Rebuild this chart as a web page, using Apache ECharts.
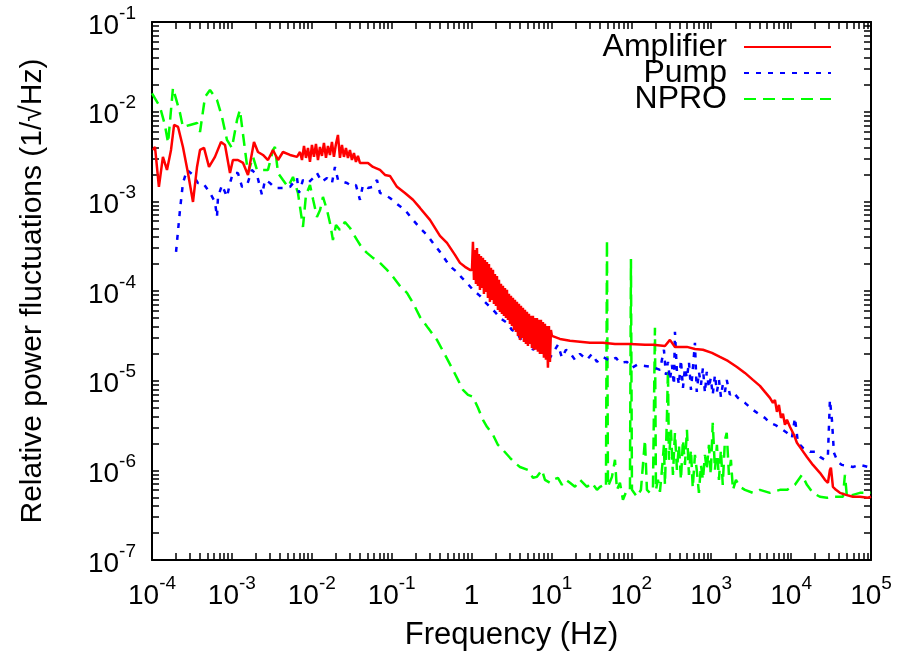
<!DOCTYPE html>
<html><head><meta charset="utf-8">
<script src="https://cdn.jsdelivr.net/npm/echarts@6/dist/echarts.min.js"></script>
<style>html,body{margin:0;padding:0;background:#fff}#c{width:898px;height:661px}</style>
</head><body><div id="c"></div>
<script>
// ---- data: [frequency (Hz), relative power fluctuation (1/sqrt(Hz))] ----
const amplifier = [
[1.03e-4,3.74e-3],[1.09e-4,4.04e-3],[1.22e-4,1.45e-3],[1.37e-4,3.13e-3],[1.54e-4,2.24e-3],[1.73e-4,3.74e-3],
[1.89e-4,7.11e-3],[2.12e-4,6.75e-3],[2.44e-4,4.04e-3],[2.82e-4,2.07e-3],[3.26e-4,9.85e-4],[3.66e-4,2.42e-3],
[3.99e-4,3.74e-3],[4.48e-4,3.94e-3],[5.17e-4,2.42e-3],[6.14e-4,3.13e-3],[7.31e-4,4.59e-3],[8.2e-4,4.25e-3],
[9.47e-4,2.07e-3],[1.03e-3,2.89e-3],[1.19e-3,2.89e-3],[1.38e-3,2.68e-3],[1.59e-3,1.97e-3],[1.89e-3,4.59e-3],
[2.12e-3,3.55e-3],[2.45e-3,3.29e-3],[2.83e-3,2.89e-3],[3.27e-3,3.74e-3],[3.78e-3,2.89e-3],[4.36e-3,3.55e-3],
[5.34e-3,3.29e-3],[6.53e-3,3.13e-3],
[7.12e-3,3.55e-3],[7.54e-3,2.89e-3],[7.99e-3,4.15e-3],[8.46e-3,3.05e-3],[8.96e-3,3.94e-3],[9.49e-3,2.75e-3],
[1.005e-2,4.25e-3],[1.065e-2,3.13e-3],[1.128e-2,4.36e-3],[1.195e-2,2.89e-3],[1.266e-2,4.04e-3],[1.341e-2,3.21e-3],
[1.420e-2,4.48e-3],[1.505e-2,3.05e-3],[1.594e-2,4.15e-3],[1.688e-2,3.29e-3],[1.788e-2,4.59e-3],[1.894e-2,3.13e-3],
[2.007e-2,4.36e-3],[2.126e-2,5.50e-3],[2.252e-2,3.05e-3],[2.385e-2,4.25e-3],[2.527e-2,3.13e-3],[2.677e-2,3.94e-3],
[2.835e-2,3.05e-3],[3.003e-2,3.74e-3],[3.181e-2,2.89e-3],[3.370e-2,3.46e-3],[3.570e-2,2.75e-3],[3.782e-2,3.21e-3],
[4.006e-2,2.68e-3],
[5.05e-2,2.68e-3],[5.83e-2,2.42e-3],[7.14e-2,2.24e-3],[8.25e-2,1.97e-3],
[9.52e-2,1.92e-3],[0.1165,1.45e-3],[0.1467,1.24e-3],[0.1848,1.04e-3],[0.2261,8.44e-4],[0.3016,6.21e-4],
[0.4024,4.12e-4],[0.4924,3.44e-4],[0.620,2.53e-4],[0.716,2.06e-4],[0.827,1.86e-4],[0.955,1.72e-4],
[1.012,1.72e-4],[1.041,3.53e-4],[1.072,1.33e-4],[1.103,2.87e-4],[1.135,1.20e-4],[1.168,3.02e-4],
[1.202,1.14e-4],[1.237,2.59e-4],[1.274,1.03e-4],[1.311,2.46e-4],[1.349,1.08e-4],[1.389,2.34e-4],
[1.429,9.29e-5],[1.471,2.22e-4],[1.514,9.77e-5],[1.558,2.11e-4],[1.604,8.38e-5],[1.651,2.00e-4],
[1.699,7.56e-5],[1.749,1.81e-4],[1.800,7.96e-5],[1.853,1.72e-4],[1.907,7.18e-5],[1.963,1.55e-4],
[2.020,6.82e-5],[2.079,1.47e-4],[2.140,6.16e-5],[2.202,1.33e-4],[2.267,5.85e-5],[2.333,1.20e-4],
[2.401,5.56e-5],[2.471,1.14e-4],[2.544,5.28e-5],[2.618,1.08e-4],[2.695,5.01e-5],[2.773,1.03e-4],
[2.854,4.76e-5],[2.938,9.29e-5],[3.024,4.30e-5],[3.112,8.82e-5],[3.203,4.08e-5],[3.297,8.38e-5],
[3.393,3.68e-5],[3.492,7.96e-5],[3.594,3.50e-5],[3.699,7.56e-5],[3.808,3.16e-5],[3.919,7.18e-5],
[4.034,2.85e-5],[4.152,6.82e-5],[4.273,3.00e-5],[4.398,6.48e-5],[4.526,2.71e-5],[4.659,6.16e-5],
[4.795,2.57e-5],[4.935,5.85e-5],[5.079,2.44e-5],[5.228,5.56e-5],[5.380,2.57e-5],[5.538,5.28e-5],
[5.700,2.32e-5],[5.866,5.28e-5],[6.038,2.21e-5],[6.214,5.01e-5],[6.396,2.21e-5],[6.583,5.01e-5],
[6.775,2.10e-5],[6.973,4.76e-5],[7.177,1.99e-5],[7.387,4.76e-5],[7.603,1.99e-5],[7.825,4.52e-5],
[8.054,1.80e-5],[8.290,4.30e-5],[8.532,1.71e-5],[8.782,4.08e-5],[9.038,1.39e-5],[9.303,4.08e-5],
[9.575,1.62e-5],[9.855,3.68e-5],[10.14,3.16e-5],
[12.78,2.92e-5],[17.05,2.78e-5],[22.75,2.71e-5],
[30.34,2.64e-5],[44.14,2.64e-5],[62.4,2.57e-5],[96.1,2.57e-5],[148.1,2.51e-5],[186.4,2.51e-5],
[263.5,2.44e-5],[304.3,2.85e-5],[351.5,2.38e-5],[496.6,2.38e-5],[625.4,2.26e-5],[787.4,2.21e-5],
[1021,2.04e-5],[1285,1.84e-5],[1619,1.66e-5],[2098,1.42e-5],[2642,1.22e-5],[3327,1.02e-5],
[4071,8.75e-6],[4701,7.5e-6],[5430,6.43e-6],[5920,5.66e-6],[6275,6.11e-6],[6646,4.49e-6],
[7040,5.37e-6],[7458,3.85e-6],[7900,4.27e-6],[8369,3.22e-6],[8867,3.66e-6],[9666,3.06e-6],
[10846,2.49e-6],[11825,2.03e-6],[13655,1.69e-6],[15776,1.41e-6],[18757,1.15e-6],[22950,9.38e-7],
[26500,7.84e-7],[28900,7.26e-7],[30600,1.01e-6],[31500,1.07e-6],[33380,6.55e-7],[36390,6.06e-7],
[40830,5.61e-7],[48550,5.33e-7],[59400,5.07e-7],[72650,5.07e-7],[91500,4.94e-7],[1e5,5.07e-7]
];
const pump = [
[2.0e-4,2.73e-4],[2.24e-4,8.02e-4],[2.44e-4,1.60e-3],[2.74e-4,2.24e-3],[3.26e-4,1.97e-3],[3.76e-4,1.60e-3],
[4.35e-4,1.60e-3],[5.32e-4,1.24e-3],[6.14e-4,9.85e-4],[6.51e-4,6.70e-4],[6.70e-4,1.12e-3],[7.52e-4,1.52e-3],
[8.68e-4,1.12e-3],[9.47e-4,1.60e-3],[1.03e-3,2.07e-3],[1.19e-3,2.07e-3],[1.34e-3,1.45e-3],[1.55e-3,1.52e-3],
[1.78e-3,2.24e-3],[2.06e-3,1.97e-3],[2.38e-3,1.18e-3],[2.60e-3,1.73e-3],[3.0e-3,1.60e-3],[3.46e-3,1.41e-3],
[4.0e-3,1.41e-3],[4.62e-3,1.41e-3],[5.34e-3,1.45e-3],[6.53e-3,1.82e-3],[6.92e-3,1.24e-3],[7.76e-3,1.73e-3],
[8.96e-3,1.60e-3],[1.04e-2,1.82e-3],[1.16e-2,2.07e-3],[1.34e-2,1.65e-3],[1.55e-2,1.82e-3],[1.79e-2,1.60e-3],
[1.95e-2,2.42e-3],[2.13e-2,1.73e-3],[2.46e-2,1.65e-3],[2.76e-2,1.60e-3],[3.18e-2,1.48e-3],[3.57e-2,1.52e-3],
[4.01e-2,1.04e-3],[4.37e-2,1.52e-3],[5.05e-2,1.41e-3],[5.83e-2,1.45e-3],[6.55e-2,1.73e-3],[7.14e-2,1.24e-3],
[8.25e-2,1.18e-3],[9.52e-2,1.09e-3],[0.1165,9.36e-4],[0.1467,8.02e-4],[0.1848,6.21e-4],[0.2261,5.05e-4],
[0.2767,4.22e-4],[0.3289,3.44e-4],[0.4024,2.73e-4],[0.4924,2.11e-4],[0.5687,1.81e-4],[0.6569,1.63e-4],
[0.7586,1.40e-4],[0.8762,1.23e-4],[1.041,1.03e-4],[1.274,8.82e-5],[1.472,7.56e-5],[1.700,6.65e-5],
[1.963,5.85e-5],[2.268,5.01e-5],[2.775,4.41e-5],[3.205,3.68e-5],[3.701,3.41e-5],[4.399,2.64e-5],
[5.082,2.85e-5],[5.870,2.21e-5],[6.781,2.51e-5],[7.61,1.94e-5],[8.54,2.32e-5],[9.58,1.80e-5],
[10.44,2.04e-5],[12.06,2.51e-5],[13.54,1.80e-5],[15.19,2.21e-5],[17.05,2.04e-5],[19.69,1.71e-5],
[22.75,1.99e-5],[27.83,1.71e-5],[32.14,1.99e-5],[37.13,1.62e-5],[44.14,1.84e-5],[54.0,1.66e-5],
[64.2,1.80e-5],[72.0,1.58e-5],[88.1,1.62e-5],[101.8,1.39e-5],[117.6,1.50e-5],[148.1,1.46e-5],
[186.4,1.42e-5],[228.1,1.32e-5],[241.6,1.71e-5],[256.0,2.21e-5],[271.2,1.16e-5],[287.3,1.62e-5],
[304.3,1.02e-5],[322.3,1.50e-5],[341.5,8.98e-6],[351.5,3.50e-5],[372.3,1.25e-5],[394.4,8.98e-6],
[417.8,1.71e-5],[442.6,8.31e-6],[468.9,1.39e-5],[496.6,1.07e-5],[526.1,1.62e-5],[557.5,7.9e-6],
[587.1,1.32e-5],[625.4,2.64e-5],[658.8,7.5e-6],[702.0,1.25e-5],[743.6,8.98e-6],[787.4,1.39e-5],
[834.6,7.31e-6],[878.9,1.25e-5],[936.4,8.31e-6],[986.1,1.07e-5],[1045,6.95e-6],[1113,1.16e-5],
[1179,7.5e-6],[1249,1.02e-5],[1323,6.60e-6],[1394,8.98e-6],[1485,7.5e-6],[1564,1.02e-5],
[1715,6.95e-6],[1870,7.5e-6],[2160,6.43e-6],[2642,5.66e-6],[3327,4.73e-6],[4071,4.16e-6],[4701,3.85e-6],
[5430,3.39e-6],[6275,3.22e-6],[7244,2.98e-6],[8867,2.62e-6],[10240,2.30e-6],[11160,3.85e-6],
[12170,2.03e-6],[14060,1.78e-6],[17200,1.61e-6],[19870,1.61e-6],[22950,1.41e-6],[26500,1.31e-6],
[28900,1.49e-6],[30600,6.11e-6],[32430,3.66e-6],[34350,1.57e-6],[38550,1.24e-6],[43250,1.15e-6],
[51400,1.12e-6],[59400,1.09e-6],[72650,1.15e-6],[91500,1.09e-6],[1e5,1.12e-6]
];
const npro = [
[1.0e-4,1.6e-2],[1.03e-4,1.535e-2],[1.26e-4,1.128e-2],[1.45e-4,7.11e-3],[1.59e-4,4.48e-3],[1.83e-4,1.837e-2],
[2.24e-4,9.67e-3],[2.44e-4,6.75e-3],[2.99e-4,7.11e-3],[3.66e-4,7.48e-3],[3.99e-4,5.94e-3],[4.61e-4,1.458e-2],
[5.32e-4,1.745e-2],[6.51e-4,1.35e-2],[7.52e-4,8.73e-3],[8.68e-4,4.84e-3],[1.0e-3,3.94e-3],[1.16e-3,8.08e-3],
[1.26e-3,1.045e-2],[1.46e-3,3.74e-3],[1.59e-3,2.07e-3],[1.84e-3,3.13e-3],[2.06e-3,2.24e-3],[2.45e-3,2.24e-3],
[2.83e-3,2.24e-3],[3.27e-3,3.74e-3],[3.46e-3,4.04e-3],[3.78e-3,2.07e-3],[4.36e-3,1.73e-3],[5.04e-3,1.45e-3],
[5.82e-3,1.87e-3],[6.72e-3,1.24e-3],[7.12e-3,8.66e-4],[7.76e-3,5.18e-4],[8.46e-3,1.18e-3],[9.50e-3,1.52e-3],
[1.04e-2,1.04e-3],[1.16e-2,6.70e-4],[1.27e-2,8.02e-4],[1.38e-2,1.12e-3],[1.55e-2,8.02e-4],[1.69e-2,5.74e-4],
[1.84e-2,3.71e-4],[2.01e-2,5.46e-4],[2.25e-2,4.80e-4],[2.60e-2,5.89e-4],[3.01e-2,5.05e-4],[3.68e-2,3.71e-4],
[4.25e-2,3.02e-4],[4.91e-2,2.66e-4],[5.83e-2,2.34e-4],[7.14e-2,2.06e-4],[8.74e-2,1.72e-4],[0.1038,1.44e-4],
[0.127,1.14e-4],[0.1555,9.53e-5],[0.1848,7.37e-5],[0.2261,5.14e-5],[0.2847,3.88e-5],[0.369,2.85e-5],
[0.465,1.94e-5],[0.585,1.32e-5],[0.676,1.02e-5],[0.781,7.9e-6],[0.902,6.95e-6],[1.041,6.60e-6],
[1.203,4.98e-6],[1.389,3.66e-6],[1.560,3.06e-6],[1.854,2.49e-6],[2.141,1.92e-6],[2.473,1.69e-6],
[3.025,1.38e-6],[3.494,1.21e-6],[4.036,1.09e-6],[5.082,1.01e-6],[5.870,8.25e-7],[6.588,8.46e-7],
[7.61,1.01e-6],[8.297,7.84e-7],[9.58,7.26e-7],[10.44,7.84e-7],[12.06,8.25e-7],[13.54,6.89e-7],
[15.19,7.84e-7],[17.05,7.26e-7],[19.69,6.55e-7],[22.75,7.84e-7],[27.83,6.55e-7],[32.14,7.26e-7],
[37.13,6.06e-7],[40.48,6.55e-7],[45.43,6.89e-7],[48.13,6.55e-7],[49.54,3.71e-4],[50.99,6.55e-7],
[57.22,8.46e-7],[62.4,1.31e-6],[66.07,6.06e-7],[72.0,7.26e-7],[78.52,4.69e-7],[88.1,6.06e-7],
[96.1,6.06e-7],[98.9,2.28e-4],[101.8,6.06e-7],[117.6,5.07e-7],[131.9,6.06e-7],[148.1,2.19e-6],
[156.8,6.06e-7],[171.0,5.61e-7],[186.4,6.06e-7],[191.9,6.06e-7],[197.5,3.88e-5],[203.3,6.06e-7],
[215.3,7.84e-7],[228.1,5.76e-7],[241.6,1.01e-6],[256.0,1.92e-6],[263.5,6.89e-7],[279.1,3.95e-6],
[287.3,1.32e-5],[295.7,1.31e-6],[313.2,2.83e-6],[331.7,8.91e-7],[351.5,2.62e-6],[372.3,1.01e-6],
[394.4,1.92e-6],[417.8,7.84e-7],[442.6,2.19e-6],[468.9,1.15e-6],[496.6,2.83e-6],[526.1,8.91e-7],
[557.5,1.69e-6],[587.1,6.38e-7],[625.4,1.49e-6],[658.8,1.01e-6],[702.0,5.61e-7],[743.6,1.15e-6],
[787.4,7.84e-7],[834.6,1.49e-6],[878.9,1.01e-6],[936.4,1.92e-6],[986.1,8.91e-7],[1045,3.39e-6],
[1113,1.01e-6],[1179,1.92e-6],[1249,7.84e-7],[1323,1.69e-6],[1394,6.89e-7],[1485,2.19e-6],
[1564,2.62e-6],[1666,8.91e-7],[1765,1.31e-6],[1870,6.06e-7],[2039,7.84e-7],[2288,6.55e-7],
[2642,6.06e-7],[3327,5.61e-7],[4071,6.06e-7],[5430,5.61e-7],[7244,6.06e-7],
[8867,6.06e-7],[11160,6.89e-7],[13655,8.91e-7],[15776,6.89e-7],[18757,5.61e-7],[22950,5.07e-7],
[28080,4.94e-7],[35360,5.07e-7],[44530,5.07e-7],[47170,8.91e-7],[49950,5.07e-7],[59400,5.33e-7],
[72650,5.61e-7],[91500,5.61e-7],[1e5,5.61e-7]
];
const seriesNames = ['Amplifier', 'Pump', 'NPRO'];
const xRange = [1e-4, 1e5];
const yRange = [1e-7, 1e-1];

// ---- styling / layout ----
const FONT = '"Liberation Sans", Arial, Helvetica, sans-serif';
const G = {left: 152, right: 27, top: 22, bottom: 101};
// tick marks at 1..9 x 10^n on every decade of an axis range
function decadeTicks(range) {
  const lo = Math.round(Math.log10(range[0])), hi = Math.round(Math.log10(range[1]));
  const out = [];
  for (let d = lo; d < hi; d++) for (let k = 1; k <= 9; k++) out.push(Number((k * Math.pow(10, d)).toPrecision(6)));
  out.push(Number(Math.pow(10, hi).toPrecision(6)));
  return out;
}
function expLabel(v) {
  const e = Math.round(Math.log10(v));
  return e === 0 ? '{b|1}' : '{b|10}{e|' + e + '}';
}
const rich = {
  b: {fontSize: 28, fontFamily: FONT, color: '#000', lineHeight: 36, verticalAlign: 'bottom'},
  e: {fontSize: 19, fontFamily: FONT, color: '#000', lineHeight: 16, verticalAlign: 'top'}
};
const axisLine = {show: true, onZero: false, lineStyle: {color: '#000', width: 2}};
function logAxis(pos, main, range, extra) {
  return Object.assign({
    type: 'log', logBase: 10, min: range[0], max: range[1], position: pos,
    axisLine: axisLine,
    axisTick: {show: true, inside: true, length: 7, customValues: decadeTicks(range),
      lineStyle: {color: '#000', width: 1.5}},
    axisLabel: main ? {show: true, formatter: expLabel, rich: rich, hideOverlap: false, interval: 0} : {show: false},
    splitLine: {show: false}, minorTick: {show: false}, minorSplitLine: {show: false}
  }, extra || {});
}

const chart = echarts.init(document.getElementById('c'), null, {renderer: 'canvas'});
const legendCommon = {
  orient: 'vertical', align: 'right', right: 66, padding: 0,
  itemWidth: 87, itemHeight: 20, selectedMode: false,
  itemStyle: {opacity: 0, borderWidth: 0},
  textStyle: {fontSize: 32, fontFamily: FONT, color: '#000', padding: [0, 12, 0, 0]}
};
chart.setOption({
  animation: false,
  backgroundColor: '#fff',
  grid: Object.assign({containLabel: false, outerBoundsMode: 'none'}, G),
  legend: [
    Object.assign({data: [seriesNames[0]], top: 31}, legendCommon),
    Object.assign({data: [seriesNames[1]], top: 57}, legendCommon),
    Object.assign({data: [seriesNames[2]], top: 83}, legendCommon)
  ],
  xAxis: [
    logAxis('bottom', true, xRange, {
      name: 'Frequency (Hz)', nameLocation: 'middle', nameGap: 60,
      nameTextStyle: {fontSize: 31, fontFamily: FONT, color: '#000'},
      axisLabel: {show: true, formatter: expLabel, rich: rich, hideOverlap: false, interval: 0, margin: 14}
    }),
    logAxis('top', false, xRange)
  ],
  yAxis: [
    logAxis('left', true, yRange, {
      name: 'Relative power fluctuations (1/\u221AHz)', nameLocation: 'middle', nameGap: 104, nameRotate: 90,
      nameTextStyle: {fontSize: 30, fontFamily: FONT, color: '#000'},
      axisLabel: {show: true, formatter: expLabel, rich: rich, hideOverlap: false, interval: 0, margin: 16}
    }),
    logAxis('right', false, yRange)
  ],
  series: [
    {name: seriesNames[0], type: 'line', data: amplifier, symbol: 'none', showSymbol: false,
     xAxisIndex: 0, yAxisIndex: 0,
     lineStyle: {color: '#ff0000', width: 2.5, type: 'solid'}, itemStyle: {color: '#ff0000'}, z: 5},
    {name: seriesNames[1], type: 'line', data: pump, symbol: 'none', showSymbol: false,
     xAxisIndex: 0, yAxisIndex: 0,
     lineStyle: {color: '#0000ff', width: 2.5, type: [5, 7]}, itemStyle: {color: '#0000ff'}, z: 4},
    {name: seriesNames[2], type: 'line', data: npro, symbol: 'none', showSymbol: false,
     xAxisIndex: 0, yAxisIndex: 0,
     lineStyle: {color: '#00ff00', width: 2.5, type: [12, 7]}, itemStyle: {color: '#00ff00'}, z: 3}
  ]
});
</script></body></html>
